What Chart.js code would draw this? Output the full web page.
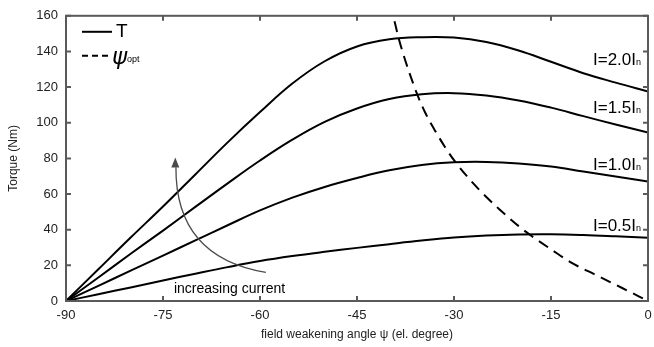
<!DOCTYPE html>
<html>
<head>
<meta charset="utf-8">
<script src="https://cdn.jsdelivr.net/npm/chart.js@4.4.1/dist/chart.umd.min.js"></script>
<style>
  html, body { margin: 0; padding: 0; background: #fff; }
</style>
</head>
<body>
<canvas id="torqueChart" width="654" height="347"></canvas>
<script>
// field weakening angle (el. degree)
const angles = [-90, -85, -80, -75, -70, -65, -60, -55, -50, -45, -40, -35, -30, -25, -20, -15, -10, -5, 0];

// torque (Nm) per current level
const torque05 = [0, 3.8, 7.6, 11.5, 15.3, 19, 22.4, 25.2, 27.6, 29.8, 31.9, 33.9, 35.6, 36.7, 37.3, 37.4, 37, 36.3, 35.5];
const torque10 = [0, 8.5, 17, 25.5, 34, 42.5, 50.8, 58, 64, 69, 73.3, 76.3, 77.8, 78, 77.2, 75.5, 72.6, 69.8, 67];
const torque15 = [0, 13.2, 26.5, 39.5, 52.8, 66, 78.8, 90.5, 100.5, 108, 113.3, 116, 116.6, 115.3, 112.5, 108.5, 103.7, 99, 94.5];
const torque20 = [0, 17.8, 35.6, 53, 71, 89, 106, 122, 134.5, 142.8, 146.8, 148, 147.8, 145.3, 140.5, 134.2, 127.8, 122.5, 117.5];

// optimal angle curve
const psiOptAngle = [-39.2, -38.6, -37.8, -36.8, -35.7, -34.5, -33, -31.5, -30, -28, -26, -23, -20, -18, -15, -12, -8, -4, 0];
const psiOptTorque = [157, 148, 138, 127, 116, 106, 96, 87, 79, 70, 62, 51.5, 42, 36.5, 29, 21.8, 14.5, 7.3, 0];

const xTicks = [-90, -75, -60, -45, -30, -15, 0];
const yTicks = [0, 20, 40, 60, 80, 100, 120, 140, 160];
const curveNames = ['I=0.5I', 'I=1.0I', 'I=1.5I', 'I=2.0I'];

const FONT = '"Liberation Sans", Arial, sans-serif';
const toXY = (xs, ys) => xs.map((x, i) => ({ x: x, y: ys[i] }));

const lineStyle = {
    borderColor: '#000',
    borderWidth: 2,
    pointRadius: 0,
    fill: false,
    tension: 0.4
};

// frame with inward ticks on all four sides
const framePlugin = {
    id: 'frame',
    afterDraw(chart) {
        const { ctx, chartArea: a, scales } = chart;
        ctx.save();
        ctx.strokeStyle = '#5a5a5a';
        ctx.lineWidth = 2;
        ctx.strokeRect(a.left, a.top, a.right - a.left, a.bottom - a.top);
        ctx.beginPath();
        xTicks.forEach(v => {
            const px = scales.x.getPixelForValue(v);
            ctx.moveTo(px, a.bottom); ctx.lineTo(px, a.bottom - 5);
            ctx.moveTo(px, a.top); ctx.lineTo(px, a.top + 5);
        });
        yTicks.forEach(v => {
            const py = scales.y.getPixelForValue(v);
            ctx.moveTo(a.left, py); ctx.lineTo(a.left + 5, py);
            ctx.moveTo(a.right, py); ctx.lineTo(a.right - 5, py);
        });
        ctx.stroke();
        ctx.restore();
    }
};

// legend, curve labels and the "increasing current" arrow
const notesPlugin = {
    id: 'notes',
    afterDraw(chart) {
        const { ctx, chartArea: a, scales } = chart;
        const X = v => scales.x.getPixelForValue(v);
        const Y = v => scales.y.getPixelForValue(v);
        ctx.save();

        // legend
        ctx.strokeStyle = '#000';
        ctx.lineWidth = 2;
        ctx.beginPath();
        ctx.moveTo(a.left + 16, a.top + 16); ctx.lineTo(a.left + 46, a.top + 16);
        ctx.stroke();
        ctx.setLineDash([6, 4]);
        ctx.beginPath();
        ctx.moveTo(a.left + 16, a.top + 40); ctx.lineTo(a.left + 45, a.top + 40);
        ctx.stroke();
        ctx.setLineDash([]);
        ctx.fillStyle = '#000';
        ctx.textBaseline = 'middle';
        ctx.font = '19px ' + FONT;
        ctx.fillText('T', a.left + 50, a.top + 16);
        ctx.font = 'italic 23px "DejaVu Sans", sans-serif';
        ctx.fillText('ψ', a.left + 46, a.top + 42);
        ctx.font = '9px ' + FONT;
        ctx.fillText('opt', a.left + 61, a.top + 44);

        // curve labels, right aligned
        const labelY = [42.4, 77, 109, 136];
        curveNames.forEach((t, i) => {
            ctx.font = '17px ' + FONT;
            const w1 = ctx.measureText(t).width;
            ctx.font = '9px ' + FONT;
            const w2 = ctx.measureText('n').width;
            const x0 = a.right - 7 - w1 - w2;
            const py = Y(labelY[i]);
            ctx.font = '17px ' + FONT;
            ctx.textBaseline = 'alphabetic';
            ctx.fillText(t, x0, py + 6);
            ctx.font = '9px ' + FONT;
            ctx.fillText('n', x0 + w1, py + 6);
        });

        // arrow
        ctx.strokeStyle = '#4a4a4a';
        ctx.fillStyle = '#4a4a4a';
        ctx.lineWidth = 1.3;
        ctx.beginPath();
        ctx.moveTo(X(-59.1), Y(16));
        ctx.quadraticCurveTo(X(-73.1), Y(24.6), X(-73.0), Y(75));
        ctx.stroke();
        const tx = X(-73.1), ty = Y(80.5);
        ctx.beginPath();
        ctx.moveTo(tx, ty);
        ctx.lineTo(tx - 4, ty + 10);
        ctx.lineTo(tx + 4, ty + 10);
        ctx.closePath();
        ctx.fill();

        ctx.fillStyle = '#000';
        ctx.font = '14px ' + FONT;
        ctx.textBaseline = 'middle';
        ctx.textAlign = 'center';
        ctx.fillText('increasing current', X(-64.7), Y(6.6));
        ctx.restore();
    }
};

const datasets = [torque05, torque10, torque15, torque20].map((vals, i) => ({
    label: 'T ' + curveNames[i],
    data: toXY(angles, vals),
    ...lineStyle
}));
datasets.push({
    label: 'psi_opt',
    data: toXY(psiOptAngle, psiOptTorque),
    ...lineStyle,
    borderDash: [11, 7],
    cubicInterpolationMode: 'monotone'
});

new Chart(document.getElementById('torqueChart').getContext('2d'), {
    type: 'line',
    data: { datasets: datasets },
    options: {
        responsive: false,
        animation: false,
        devicePixelRatio: 1,
        layout: { padding: { top: 10, right: 6, bottom: 0, left: 0 } },
        plugins: {
            legend: { display: false },
            tooltip: { enabled: false }
        },
        scales: {
            x: {
                type: 'linear',
                min: -90,
                max: 0,
                afterBuildTicks: s => { s.ticks = xTicks.map(v => ({ value: v })); },
                afterFit: s => { s.height = 46; s.paddingRight = 0; s.paddingLeft = 0; },
                grid: { display: false, drawTicks: false },
                border: { display: false },
                ticks: { color: '#222', font: { family: FONT, size: 13 }, padding: 7, maxRotation: 0 },
                title: {
                    display: true,
                    text: 'field weakening angle ψ (el. degree)',
                    color: '#222',
                    font: { family: FONT, size: 12 },
                    padding: { top: 0, bottom: 5 }
                }
            },
            y: {
                min: 0,
                max: 160,
                afterBuildTicks: s => { s.ticks = yTicks.map(v => ({ value: v })); },
                afterFit: s => { s.width = 66; },
                grid: { display: false, drawTicks: false },
                border: { display: false },
                ticks: { color: '#222', font: { family: FONT, size: 13 }, padding: 8 },
                title: {
                    display: true,
                    text: 'Torque (Nm)',
                    color: '#222',
                    font: { family: FONT, size: 12 },
                    padding: { top: 6, bottom: 0 }
                }
            }
        }
    },
    plugins: [framePlugin, notesPlugin]
});
</script>
</body>
</html>
